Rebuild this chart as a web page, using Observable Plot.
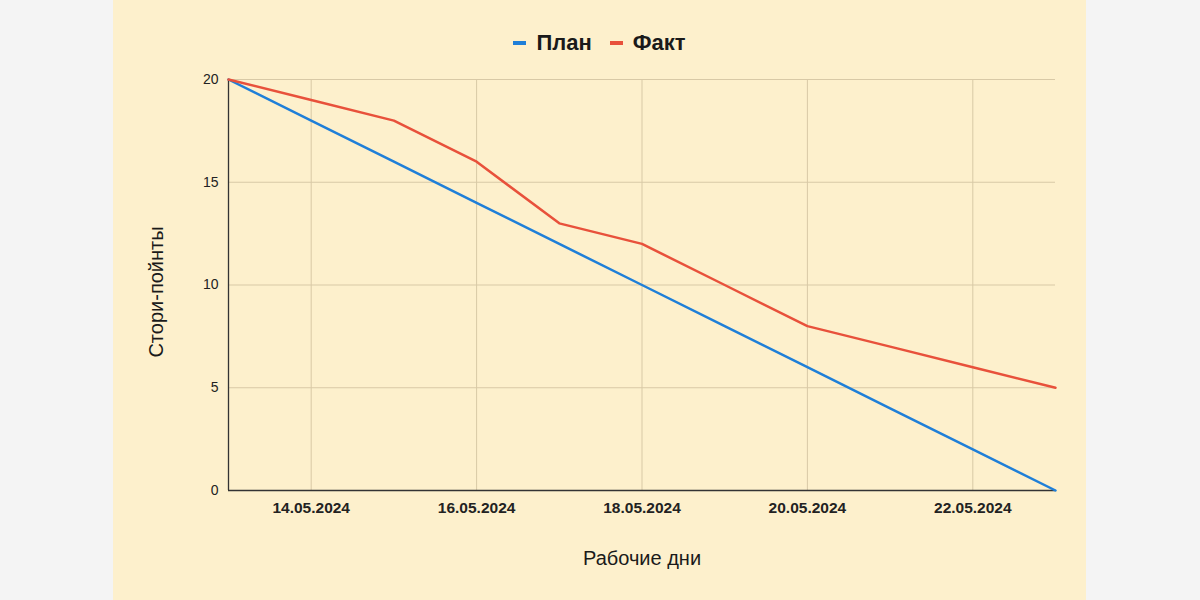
<!DOCTYPE html>
<html><head><meta charset="utf-8">
<script src="https://cdn.jsdelivr.net/npm/d3@7"></script>
<script src="https://cdn.jsdelivr.net/npm/@observablehq/plot@0.6"></script>
<style>
body{margin:0;width:1200px;height:600px;background:#f4f4f4;font-family:Arial,"Liberation Sans",sans-serif;overflow:hidden}
#panel{position:absolute;left:113px;top:0;width:973px;height:600px;background:#fdf0cc}
#legend{position:absolute;left:0;top:30px;width:100%;text-align:center;font-weight:bold;font-size:22px;color:#1a1a1a}
#legend span.sw{display:inline-block;width:13px;height:4px;vertical-align:middle;margin-right:10px;position:relative;top:-1px}
#legend span.it{margin:0 9px}
#chart{position:absolute;left:0;top:0}
</style></head>
<body>
<div id="panel">
  <div id="legend"></div>
  <div id="chart"></div>
</div>
<script>
const dates = ["2024-05-13","2024-05-14","2024-05-15","2024-05-16","2024-05-17","2024-05-18","2024-05-19","2024-05-20","2024-05-21","2024-05-22","2024-05-23"];
const plan = [20,18,16,14,12,10,8,6,4,2,0];
const fact = [20,19,18,16,13,12,10,8,7,6,5];
const seriesNames = ["План","Факт"];
const seriesColors = ["#1f7fd8","#e8513b"];
const xTicks = ["2024-05-14","2024-05-16","2024-05-18","2024-05-20","2024-05-22"];
const yTicks = [0,5,10,15,20];

const rows = [];
dates.forEach((d,i)=>{
  rows.push({date:new Date(d), value:plan[i], series:seriesNames[0]});
  rows.push({date:new Date(d), value:fact[i], series:seriesNames[1]});
});
const xt = xTicks.map(d=>new Date(d));
const fmt = d3.utcFormat("%d.%m.%Y");

const legend = document.getElementById("legend");
legend.innerHTML = seriesNames.map((n,i)=>`<span class="it"><span class="sw" style="background:${seriesColors[i]}"></span>${n}</span>`).join("");

const grid = "#d8c9a6";
const chart = Plot.plot({
  width: 973, height: 600,
  marginLeft: 115, marginRight: 31, marginTop: 79, marginBottom: 110,
  style: {background:"transparent", fontFamily:"Arial, 'Liberation Sans', sans-serif", color:"#222"},
  x: {type:"utc", domain:[new Date(dates[0]), new Date(dates[dates.length-1])]},
  y: {domain:[0,20]},
  color: {domain: seriesNames, range: seriesColors},
  marks: [
    Plot.gridX(xt, {stroke:grid, strokeOpacity:1, strokeWidth:1}),
    Plot.gridY(yTicks.filter(v=>v>0), {stroke:grid, strokeOpacity:1, strokeWidth:1}),
    Plot.axisX(xt, {tickFormat:fmt, tickSize:0, tickPadding:11, fontSize:15.5, fontWeight:"bold", label:null}),
    Plot.axisY(yTicks, {tickSize:0, tickPadding:10, fontSize:14, label:null}),
    Plot.text(["Рабочие дни"], {frameAnchor:"bottom", dy:74, fontSize:20, fill:"#1a1a1a"}),
    Plot.text(["Стори-пойнты"], {frameAnchor:"left", dx:-72, dy:7, rotate:-90, fontSize:20, fill:"#1a1a1a", textAnchor:"middle"}),
    Plot.ruleY([0], {stroke:"#333", strokeWidth:1.3}),
    Plot.ruleX([new Date(dates[0])], {stroke:"#333", strokeWidth:1.3}),
    Plot.line(rows, {x:"date", y:"value", stroke:"series", strokeWidth:2.5})
  ]
});
document.getElementById("chart").appendChild(chart);
</script>
</body></html>
